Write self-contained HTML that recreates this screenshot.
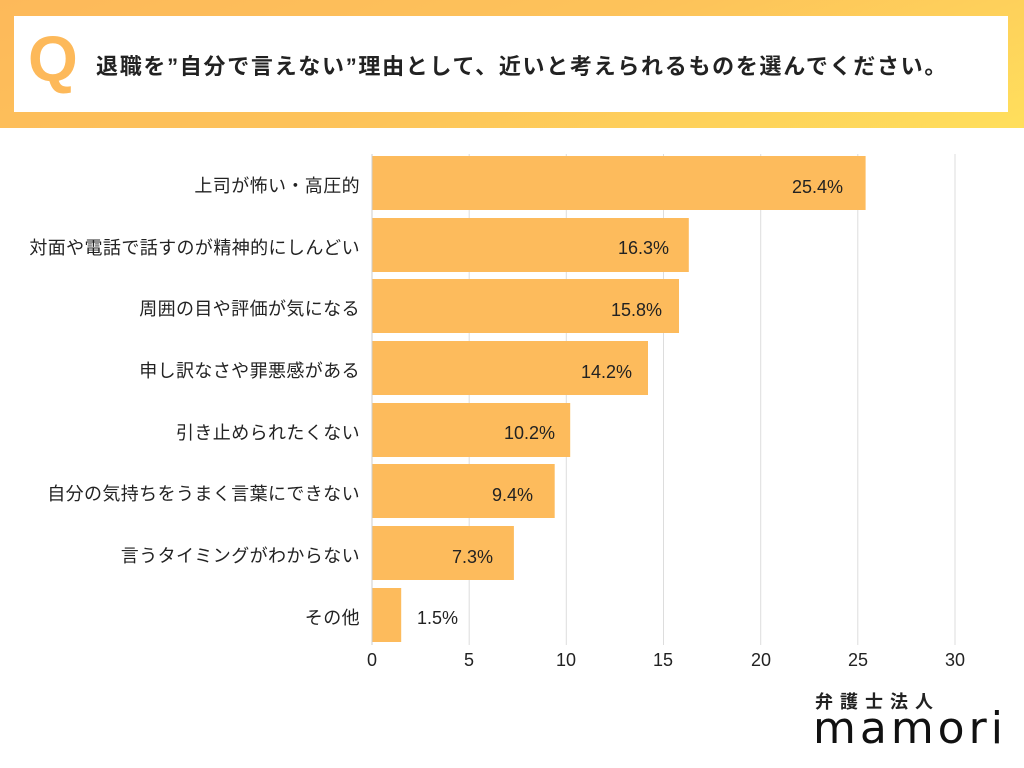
<!DOCTYPE html>
<html><head><meta charset="utf-8"><style>
body{margin:0;width:1024px;height:768px;background:#fff;position:relative;overflow:hidden;font-family:"Liberation Sans","Noto Sans CJK JP",sans-serif;}
.hdr{position:absolute;left:0;top:0;width:1024px;height:128px;background:linear-gradient(160deg,#fdb95a 0%,#fdc35a 50%,#ffdf5c 100%);}
.box{position:absolute;left:14px;top:16px;width:994px;height:96px;background:#fff;}
.q{position:absolute;left:28px;top:22px;font-size:64px;font-weight:bold;color:#fdb95a;font-family:"Liberation Sans",sans-serif;}
.qt{position:absolute;left:96px;top:49px;font-size:22px;font-weight:bold;color:#222;letter-spacing:1.7px;white-space:nowrap;}
.lbl{position:absolute;right:664px;font-size:18px;color:#222;white-space:nowrap;letter-spacing:0.4px;}
.tick{position:absolute;top:650px;font-size:18px;color:#222;width:40px;text-align:center;}
</style></head><body>
<div class="hdr"></div><div class="box"></div>
<div class="q">Q</div>
<div class="qt">退職を”自分で言えない”理由として、近いと考えられるものを選んでください。</div>
<svg width="1024" height="768" style="position:absolute;left:0;top:0">
<g stroke="#dddddd" stroke-width="1">
<line x1="469.2" y1="154" x2="469.2" y2="645"/><line x1="566.3" y1="154" x2="566.3" y2="645"/><line x1="663.5" y1="154" x2="663.5" y2="645"/><line x1="760.7" y1="154" x2="760.7" y2="645"/><line x1="857.8" y1="154" x2="857.8" y2="645"/><line x1="955" y1="154" x2="955" y2="645"/>
</g>
<g fill="#fdbb5c">
<rect x="372" y="156" width="493.6" height="54"/>
<rect x="372" y="218" width="316.8" height="54"/>
<rect x="372" y="279" width="307" height="54"/>
<rect x="372" y="341" width="276" height="54"/>
<rect x="372" y="403" width="198.2" height="54"/>
<rect x="372" y="464" width="182.7" height="54"/>
<rect x="372" y="526" width="141.9" height="54"/>
<rect x="372" y="588" width="29.2" height="54"/>
</g>
<line x1="372" y1="154" x2="372" y2="645" stroke="#ccc"/>
<g font-family="Liberation Sans,sans-serif" font-size="18" fill="#222" text-anchor="end">
<text x="843" y="193">25.4%</text><text x="669" y="254">16.3%</text><text x="662" y="316">15.8%</text><text x="632" y="378">14.2%</text><text x="555" y="439">10.2%</text><text x="533" y="501">9.4%</text><text x="493" y="563">7.3%</text><text x="458" y="624">1.5%</text>
</g>
</svg>
<div class="lbl" style="top:172px">上司が怖い・高圧的</div>
<div class="lbl" style="top:234px">対面や電話で話すのが精神的にしんどい</div>
<div class="lbl" style="top:295px">周囲の目や評価が気になる</div>
<div class="lbl" style="top:357px">申し訳なさや罪悪感がある</div>
<div class="lbl" style="top:419px">引き止められたくない</div>
<div class="lbl" style="top:480px">自分の気持ちをうまく言葉にできない</div>
<div class="lbl" style="top:542px">言うタイミングがわからない</div>
<div class="lbl" style="top:604px">その他</div>
<div class="tick" style="left:352px">0</div><div class="tick" style="left:449px">5</div><div class="tick" style="left:546px">10</div><div class="tick" style="left:643px">15</div><div class="tick" style="left:741px">20</div><div class="tick" style="left:838px">25</div><div class="tick" style="left:935px">30</div>
<div style="position:absolute;left:815px;top:688px;font-size:18px;font-weight:bold;color:#222;letter-spacing:7px">弁護士法人</div>
<div style="position:absolute;left:813px;top:702px;font-size:44px;line-height:54px;color:#111;letter-spacing:4px;font-family:'DejaVu Sans',sans-serif">mamori</div>
</body></html>
